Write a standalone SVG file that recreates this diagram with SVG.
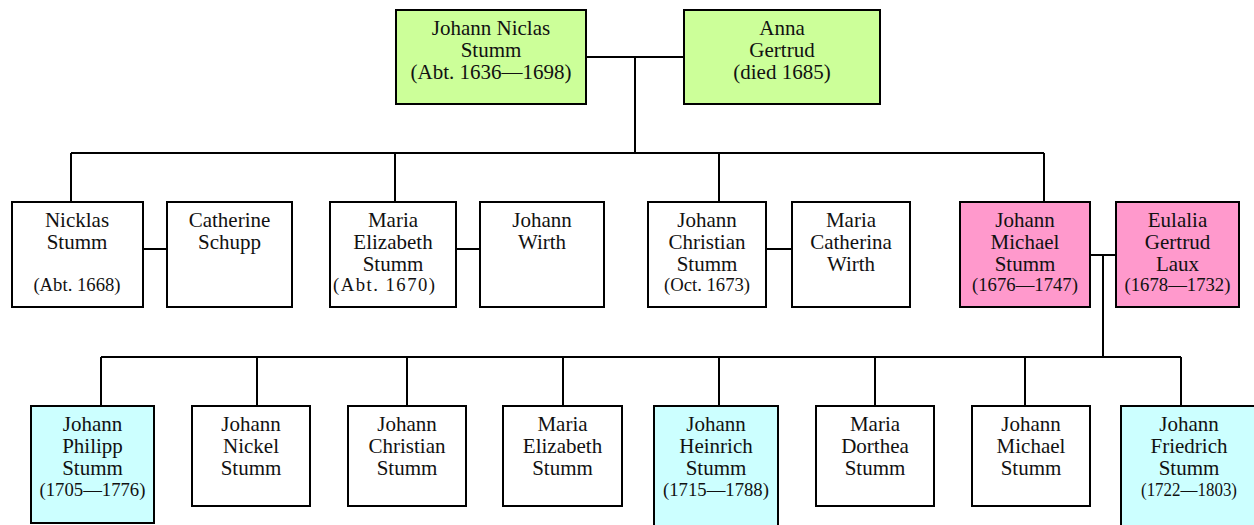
<svg xmlns="http://www.w3.org/2000/svg" width="1254" height="525" viewBox="0 0 1254 525">
<style>
rect{stroke:#000;stroke-width:2}
.w{fill:#fff}.g{fill:#ccff99}.p{fill:#ff99cc}.c{fill:#ccffff}
text{font-family:"Liberation Serif",Tinos,"Times New Roman",Times,"DejaVu Serif","Noto Serif",serif;fill:#111;text-anchor:middle;font-size:21px}
.d{font-size:18.7px}
#connectors path{stroke:#000;stroke-width:2;fill:none}
</style>
<rect width="1254" height="525" fill="#fff" style="stroke:none"/>
<g id="connectors">
<path d="M586,57H684M635,57V153"/>
<path d="M71,153H1044M71,153V202M395,153V202M719,153V202M1044,153V202"/>
<path d="M143,249H167M456,249H480M766,249H792M1090,255H1116M1103,255V357"/>
<path d="M101,357H1181M101,357V406M257,357V406M407,357V406M563,357V406M719,357V406M875,357V406M1025,357V406M1181,357V406"/>
</g>
<g id="n_johann_niclas"><rect class="g" x="396" y="10" width="190" height="94"/><text x="491" y="35">Johann Niclas</text><text x="491" y="57">Stumm</text><text x="491" y="79">(Abt. 1636—1698)</text></g>
<g id="n_anna"><rect class="g" x="684" y="10" width="196" height="94"/><text x="782" y="35">Anna</text><text x="782" y="57">Gertrud</text><text x="782" y="79">(died 1685)</text></g>

<g id="n_nicklas"><rect class="w" x="12" y="202" width="131" height="105"/><text x="77" y="227">Nicklas</text><text x="77" y="249">Stumm</text><text class="d" x="77" y="291">(Abt. 1668)</text></g>
<g id="n_catherine"><rect class="w" x="167" y="202" width="125" height="105"/><text x="229.5" y="227">Catherine</text><text x="229.5" y="249">Schupp</text></g>
<g id="n_maria_elizabeth"><rect class="w" x="330" y="202" width="126" height="105"/><text x="393" y="227">Maria</text><text x="393" y="249">Elizabeth</text><text x="393" y="271">Stumm</text><text class="d" x="384" y="291" textLength="102" lengthAdjust="spacing">(Abt. 1670)</text></g>
<g id="n_johann_wirth"><rect class="w" x="480" y="202" width="124" height="105"/><text x="542" y="227">Johann</text><text x="542" y="249">Wirth</text></g>
<g id="n_johann_christian"><rect class="w" x="648" y="202" width="118" height="105"/><text x="707" y="227">Johann</text><text x="707" y="249">Christian</text><text x="707" y="271">Stumm</text><text class="d" x="707" y="291">(Oct. 1673)</text></g>
<g id="n_maria_catherina"><rect class="w" x="792" y="202" width="118" height="105"/><text x="851" y="227">Maria</text><text x="851" y="249">Catherina</text><text x="851" y="271">Wirth</text></g>
<g id="n_johann_michael"><rect class="p" x="960" y="202" width="130" height="105"/><text x="1025" y="227">Johann</text><text x="1025" y="249">Michael</text><text x="1025" y="271">Stumm</text><text class="d" x="1025" y="291">(1676—1747)</text></g>
<g id="n_eulalia"><rect class="p" x="1116" y="202" width="123" height="105"/><text x="1177.5" y="227">Eulalia</text><text x="1177.5" y="249">Gertrud</text><text x="1177.5" y="271">Laux</text><text class="d" x="1177.5" y="291">(1678—1732)</text></g>

<g id="n_johann_philipp"><rect class="c" x="31" y="406" width="123" height="117"/><text x="92.5" y="431">Johann</text><text x="92.5" y="453">Philipp</text><text x="92.5" y="475">Stumm</text><text class="d" x="92.5" y="496">(1705—1776)</text></g>
<g id="n_johann_nickel"><rect class="w" x="192" y="406" width="118" height="100"/><text x="251" y="431">Johann</text><text x="251" y="453">Nickel</text><text x="251" y="475">Stumm</text></g>
<g id="n_johann_christian2"><rect class="w" x="348" y="406" width="118" height="100"/><text x="407" y="431">Johann</text><text x="407" y="453">Christian</text><text x="407" y="475">Stumm</text></g>
<g id="n_maria_elizabeth2"><rect class="w" x="503" y="406" width="119" height="100"/><text x="562.5" y="431">Maria</text><text x="562.5" y="453">Elizabeth</text><text x="562.5" y="475">Stumm</text></g>
<g id="n_johann_heinrich"><rect class="c" x="654" y="406" width="124" height="124"/><text x="716" y="431">Johann</text><text x="716" y="453">Heinrich</text><text x="716" y="475">Stumm</text><text class="d" x="716" y="496">(1715—1788)</text></g>
<g id="n_maria_dorthea"><rect class="w" x="816" y="406" width="118" height="100"/><text x="875" y="431">Maria</text><text x="875" y="453">Dorthea</text><text x="875" y="475">Stumm</text></g>
<g id="n_johann_michael2"><rect class="w" x="972" y="406" width="118" height="100"/><text x="1031" y="431">Johann</text><text x="1031" y="453">Michael</text><text x="1031" y="475">Stumm</text></g>
<g id="n_johann_friedrich"><rect class="c" x="1121" y="406" width="136" height="124"/><text x="1189" y="431">Johann</text><text x="1189" y="453">Friedrich</text><text x="1189" y="475">Stumm</text><text class="d" x="1189" y="496" textLength="96" lengthAdjust="spacingAndGlyphs">(1722—1803)</text></g>
</svg>
